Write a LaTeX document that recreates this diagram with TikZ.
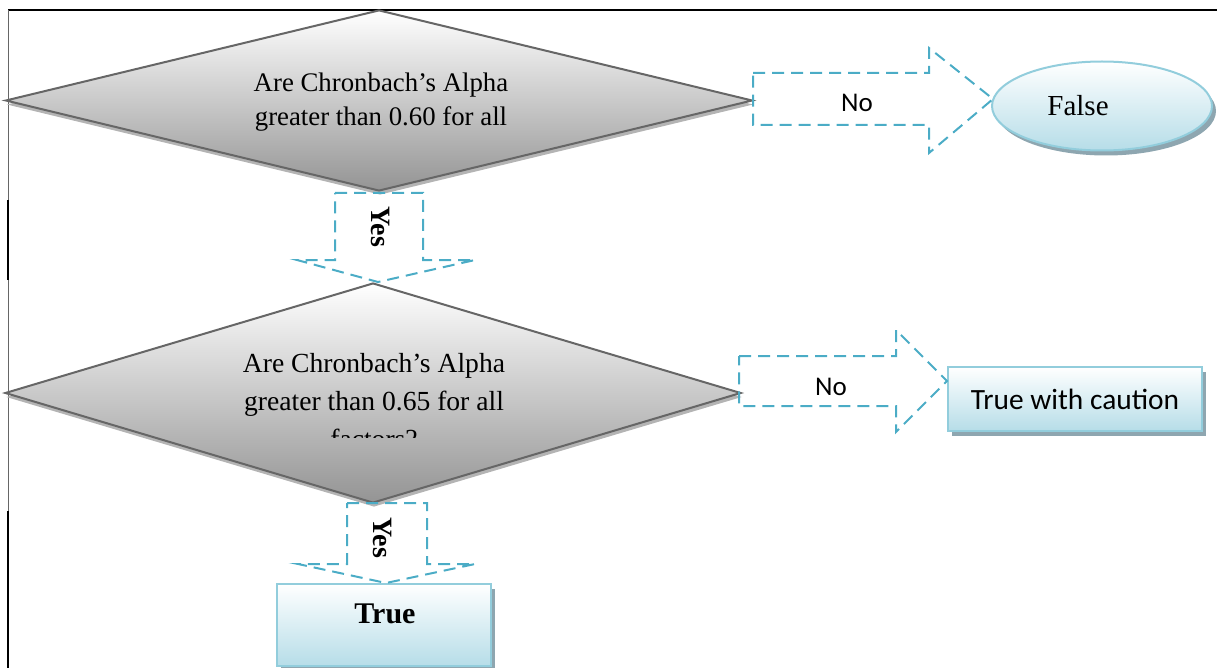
\documentclass[tikz,border=0pt]{standalone}
\usepackage{fontspec}
\setmainfont{Liberation Serif}
\newfontfamily\calib{Carlito}
\usetikzlibrary{shapes.geometric,shadows}
\definecolor{dashblue}{HTML}{4BACC6}
\definecolor{lightedge}{HTML}{92CDDC}
\definecolor{lightfill}{HTML}{B6DDE8}
\definecolor{bshadow}{HTML}{8EA6B0}
\definecolor{dedge}{HTML}{666666}
\definecolor{dshadow}{HTML}{B4B4B4}
\begin{document}
\begin{tikzpicture}[x=1pt,y=-1pt,
  decision/.style={diamond, shape aspect=4, draw=dedge, line width=2pt,
    top color=white, bottom color=black!42, inner sep=0pt,
    general shadow={fill=dshadow, shadow xshift=1pt, shadow yshift=-4pt}},
  result/.style={draw=lightedge, line width=2pt, top color=white, bottom color=lightfill,
    general shadow={fill=bshadow, shadow xshift=4pt, shadow yshift=-5pt}},
  blockarrow/.style={draw=dashblue, line width=2pt, dash pattern=on 12pt off 7pt},
  qtext/.style={align=center, inner sep=0pt},
  lbl/.style={inner sep=0pt}
]
\useasboundingbox (0,0) rectangle (1217,668);
% frame
\draw[black, line width=1.5pt] (8,10) -- (1217,10);
\draw[black!60, line width=1pt] (8,10) -- (8,668);
\draw[black, line width=2pt] (8,200) -- (8,280) (8,511) -- (8,668);

% decisions
\node[decision, minimum width=747pt, minimum height=181pt] (d1) at (379,100.5) {};
\node[qtext, font=\fontsize{26.8}{34}\selectfont] (q1) at (381,102.5) {Are Chronbach’s Alpha\\greater than 0.60 for all};

\node[decision, minimum width=736pt, minimum height=220pt] (d2) at (373,393) {};
\begin{scope}
\clip (0,0) rectangle (1217,437);
\node[qtext, font=\fontsize{27.6}{38}\selectfont] (q2) at (374,401) {Are Chronbach’s Alpha\\greater than 0.65 for all\\factors?};
\end{scope}

% results
\node[result, ellipse, minimum width=220pt, minimum height=89pt] (false) at (1102,106) {};
\node[lbl, font=\fontsize{29}{32}\selectfont] (falselbl) at (1078,106) {False};
\node[result, rectangle, minimum width=254pt, minimum height=64pt, font=\calib\fontsize{29.4}{32}\selectfont] (caution) at (1075,399) {True with caution};
\node[result, rectangle, minimum width=214pt, minimum height=82pt] (true) at (384,625) {};
\node[lbl, font=\bfseries\fontsize{30}{32}\selectfont] (truelbl) at (385,614) {True};

% block arrows
\draw[blockarrow] (753,73) -- (929,73) -- (929,48) -- (993,99) -- (929,153) -- (929,125) -- (753,125) -- cycle;
\node[lbl, font=\calib\fontsize{27}{32}\selectfont] (no1) at (857,103) {No};

\draw[blockarrow] (335,193) -- (423,193) -- (423,260) -- (475,260) -- (378,282) -- (297,260) -- (335,260) -- cycle;
\node[lbl, rotate=-90, font=\bfseries\fontsize{28}{30}\selectfont] (yes1) at (381,227) {Yes};

\draw[blockarrow] (739,356) -- (896,356) -- (896,330) -- (947,381) -- (896,432) -- (896,406) -- (739,406) -- cycle;
\node[lbl, font=\calib\fontsize{27}{32}\selectfont] (no2) at (831,387) {No};

\draw[blockarrow] (347,503) -- (427,503) -- (427,564) -- (475,564) -- (386,583) -- (298,564) -- (347,564) -- cycle;
\node[lbl, rotate=-90, font=\bfseries\fontsize{28}{30}\selectfont] (yes2) at (383,538) {Yes};
\end{tikzpicture}
\end{document}
